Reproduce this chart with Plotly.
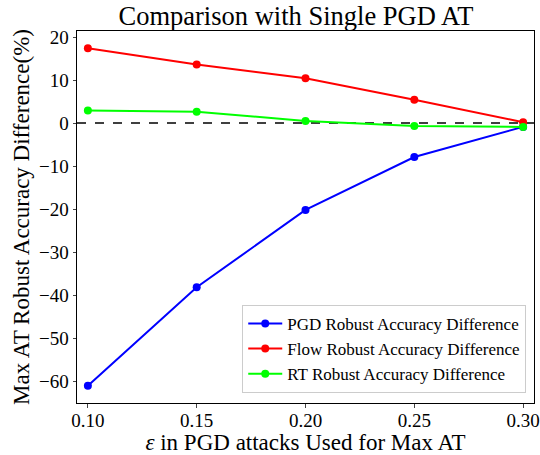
import plotly.graph_objects as go

eps = [0.10, 0.15, 0.20, 0.25, 0.30]
pgd_diff = [-61.1, -38.2, -20.2, -7.9, -0.9]
flow_diff = [17.4, 13.6, 10.4, 5.4, 0.2]
rt_diff = [2.9, 2.6, 0.5, -0.7, -0.9]
x_ticks = [0.10, 0.15, 0.20, 0.25, 0.30]
x_ticklabels = ["0.10", "0.15", "0.20", "0.25", "0.30"]
y_ticks = [-60, -50, -40, -30, -20, -10, 0, 10, 20]

FONT = "Liberation Serif"

fig = go.Figure()
series = [
    ("PGD Robust Accuracy Difference", pgd_diff, "#0000ff"),
    ("Flow Robust Accuracy Difference", flow_diff, "#ff0000"),
    ("RT Robust Accuracy Difference", rt_diff, "#00ff00"),
]
for name, vals, col in series:
    fig.add_trace(go.Scatter(
        x=eps, y=vals, name=name, mode="lines+markers",
        line=dict(color=col, width=2), marker=dict(color=col, size=8),
    ))

fig.add_hline(y=0, line=dict(color="black", width=1.5, dash="dash"), layer="below")

fig.update_layout(
    width=540, height=455,
    margin=dict(l=77, r=6, t=31, b=52, autoexpand=False),
    plot_bgcolor="white", paper_bgcolor="white",
    font=dict(family=FONT, color="black"),
    title=dict(text="Comparison with Single PGD AT", x=0.548, xanchor="center",
               y=0.966, yanchor="middle", font=dict(size=26.5, family=FONT)),
    xaxis=dict(range=[0.095, 0.305], tickvals=x_ticks, ticktext=x_ticklabels,
               showgrid=False, zeroline=False, showline=True, linecolor="black",
               linewidth=1, mirror=True, ticks="outside", ticklen=3.5,
               ticklabelstandoff=-3,
               tickfont=dict(size=19, family=FONT), automargin=False,
               title=dict(text="<i>ε</i> in PGD attacks Used for Max AT",
                          font=dict(size=23, family=FONT), standoff=0)),
    yaxis=dict(range=[-65.1, 21.4], tickvals=y_ticks,
               ticktext=[("\u2212" + str(-v)) if v < 0 else str(v) for v in y_ticks],
               showgrid=False, zeroline=False, showline=True, linecolor="black",
               linewidth=1, mirror=True, ticks="outside", ticklen=3.5,
               tickfont=dict(size=19, family=FONT), automargin=False,
               title=dict(text="Max AT Robust Accuracy Difference(%)",
                          font=dict(size=23, family=FONT), standoff=2)),
    legend=dict(x=0.983, y=0.027, xanchor="right", yanchor="bottom",
                bgcolor="white", bordercolor="#cccccc", borderwidth=1,
                font=dict(size=17, family=FONT), itemwidth=34, tracegroupgap=0),
    showlegend=True,
)

fig.write_html("out.html", config={"displayModeBar": False},
               post_script="document.body.style.margin='0';document.body.style.padding='0';")
